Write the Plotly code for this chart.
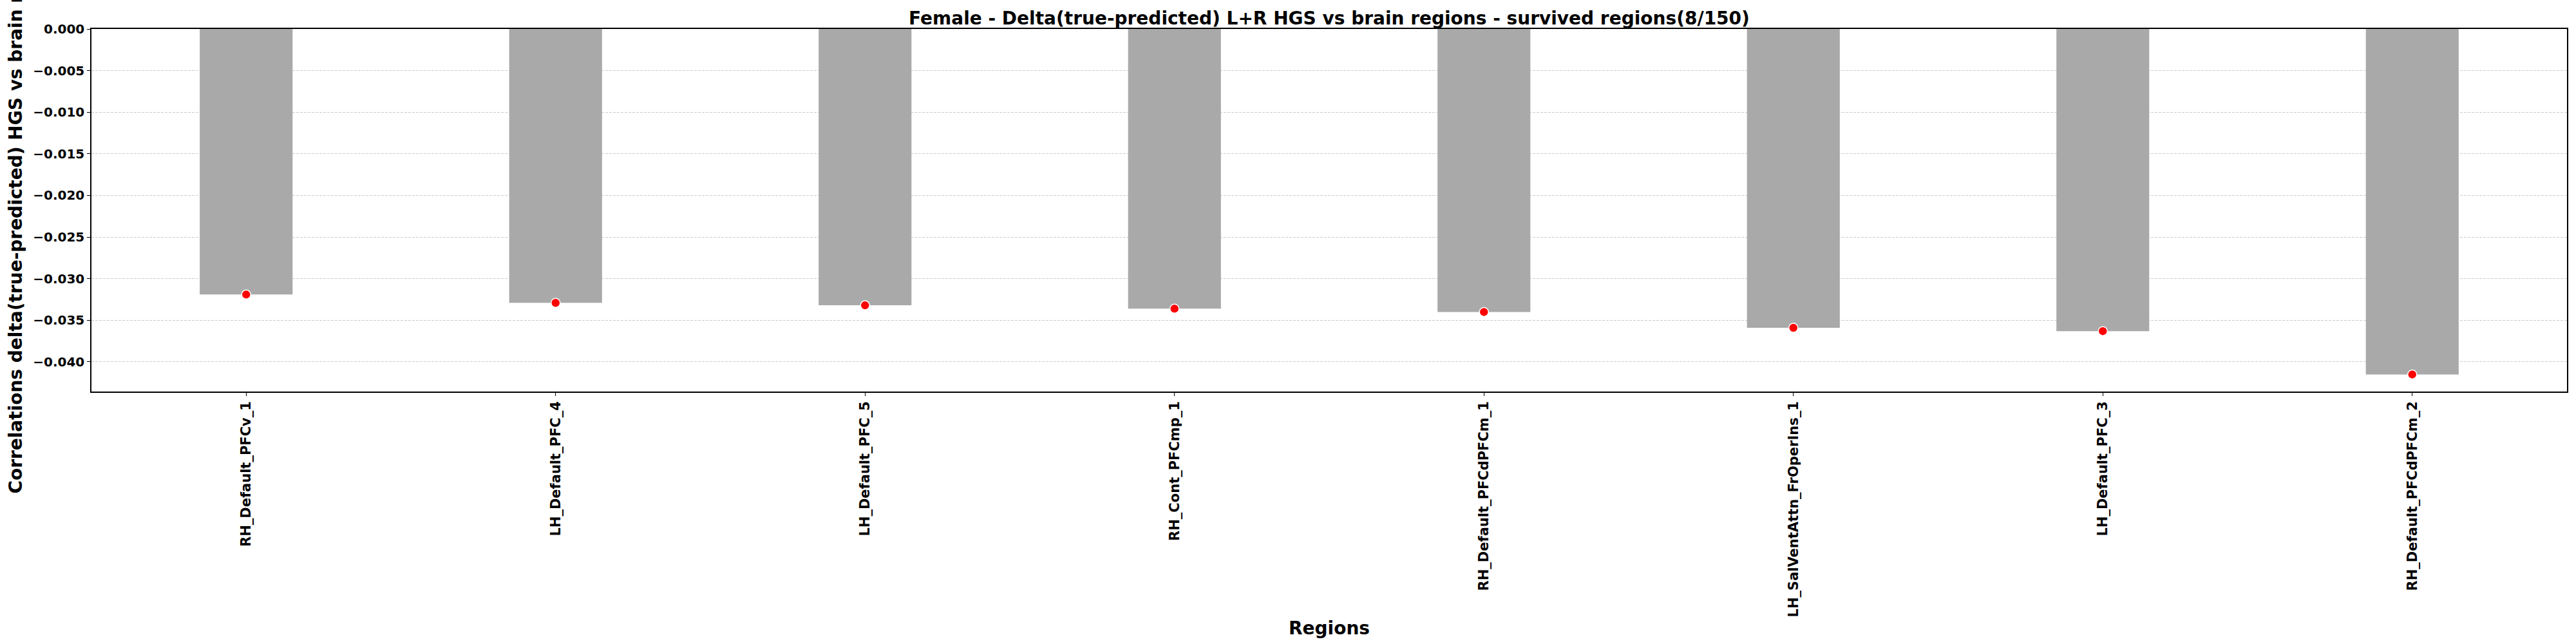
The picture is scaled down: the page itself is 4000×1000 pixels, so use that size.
import plotly.graph_objects as go

# regions that survived correction, in plotted order
regions = [
    "RH_Default_PFCv_1",
    "LH_Default_PFC_4",
    "LH_Default_PFC_5",
    "RH_Cont_PFCmp_1",
    "RH_Default_PFCdPFCm_1",
    "LH_SalVentAttn_FrOperIns_1",
    "LH_Default_PFC_3",
    "RH_Default_PFCdPFCm_2",
]

correlations = [-0.0319, -0.0329, -0.0332, -0.0336, -0.0340, -0.0359, -0.0363, -0.0415]

y_ticks = [0.000, -0.005, -0.010, -0.015, -0.020, -0.025, -0.030, -0.035, -0.040]

FONT = "DejaVu Sans"

fig = go.Figure()

fig.add_trace(go.Bar(
    x=regions,
    y=correlations,
    width=0.3,
    marker=dict(color="#a9a9a9", line=dict(width=0)),
    showlegend=False,
))

fig.add_trace(go.Scatter(
    x=regions,
    y=correlations,
    mode="markers",
    marker=dict(color="red", size=14, line=dict(color="white", width=1.5)),
    showlegend=False,
    cliponaxis=False,
))

fig.update_layout(
    width=4000,
    height=1000,
    paper_bgcolor="white",
    plot_bgcolor="white",
    margin=dict(l=142, r=14, t=45, b=392, autoexpand=False),
    font=dict(family=FONT, color="black"),
    title=dict(
        text="<b>Female - Delta(true-predicted) L+R HGS vs brain regions - survived regions(8/150)</b>",
        font=dict(family=FONT, size=28, color="black"),
        x=0.5, xref="paper", xanchor="center",
        y=0.972, yref="container", yanchor="middle",
    ),
    xaxis=dict(
        range=[-0.5, len(regions) - 0.5],
        tickangle=-90,
        tickfont=dict(family=FONT, size=21, color="black", weight="bold"),
        ticks="outside", ticklen=5, tickcolor="black", tickwidth=1.2,
        showline=True, linecolor="black", linewidth=1.5, mirror=True,
        showgrid=False, zeroline=False,
        automargin=False,
        title=dict(text="<b>Regions</b>", font=dict(family=FONT, size=28, color="black"), standoff=8),
    ),
    yaxis=dict(
        range=[-0.04356, 0],
        tickvals=y_ticks,
        tickformat=".3f",
        tickfont=dict(family=FONT, size=20, color="black", weight="bold"),
        ticks="outside", ticklen=5, tickcolor="black", tickwidth=1.2,
        showline=True, linecolor="black", linewidth=1.5, mirror=True,
        showgrid=True, gridcolor="#cccccc", griddash="4px,2px", gridwidth=1,
        zeroline=False,
        automargin=False,
        title=dict(text="<b>Correlations delta(true-predicted) HGS vs brain regions</b>",
                   font=dict(family=FONT, size=28, color="black"), standoff=8),
    ),
)

# drop the browser's default body margin so the figure sits at the page corner
fig.write_html(
    "out.html",
    config={"displayModeBar": False},
    post_script="document.body.style.margin='0';",
)
